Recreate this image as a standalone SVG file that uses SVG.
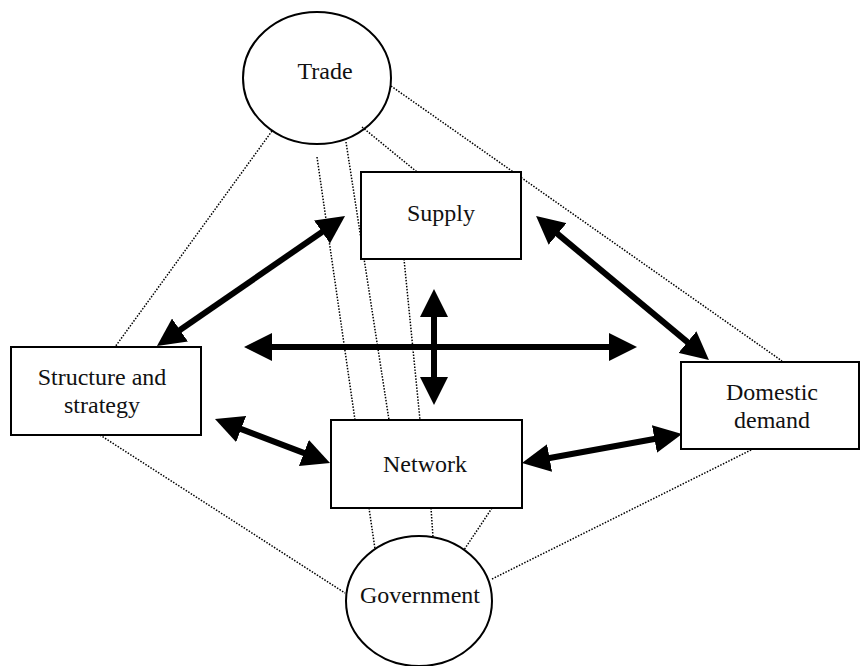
<svg xmlns="http://www.w3.org/2000/svg" width="861" height="666" viewBox="0 0 861 666">
<style>
.node{fill:#fff;stroke:#000;stroke-width:2}
.lbl{font-family:"Liberation Serif","Times New Roman",serif;font-size:24px;fill:#111;text-anchor:middle}
.dot{stroke:#000;stroke-width:1.5;stroke-dasharray:1.5 1.5;fill:none}
.thick{stroke:#000;stroke-width:6;fill:none;marker-start:url(#ah);marker-end:url(#ah)}
</style>
<defs>
<marker id="ah" markerUnits="userSpaceOnUse" viewBox="-4 -14 28 28" refX="0" refY="0" markerWidth="28" markerHeight="28" orient="auto-start-reverse">
<path d="M-4,-14 L24,0 L-4,14 z" fill="#000"/>
</marker>
</defs>
<rect width="861" height="666" fill="#fff"/>
<g id="connectors">
<line class="dot" x1="272" y1="131" x2="115" y2="347"/>
<line class="dot" x1="391" y1="86" x2="782" y2="361"/>
<line class="dot" x1="362" y1="127" x2="417" y2="172"/>
<line class="dot" x1="317" y1="157" x2="355" y2="420"/>
<line class="dot" x1="346" y1="142" x2="389" y2="420"/>
<line class="dot" x1="404" y1="259" x2="420" y2="420"/>
<line class="dot" x1="369" y1="508" x2="375" y2="549"/>
<line class="dot" x1="431" y1="508" x2="433" y2="537"/>
<line class="dot" x1="492" y1="508" x2="464" y2="550"/>
<line class="dot" x1="100" y1="435" x2="345" y2="593"/>
<line class="dot" x1="492" y1="579" x2="753" y2="449"/>
<line class="thick" x1="176.7" y1="332.3" x2="325.3" y2="229.7"/>
<line class="thick" x1="554.5" y1="231.4" x2="690.5" y2="344.6"/>
<line class="thick" x1="268" y1="347" x2="613" y2="347"/>
<line class="thick" x1="434" y1="313" x2="434" y2="381"/>
<line class="thick" x1="237.4" y1="427.6" x2="307.6" y2="454.4"/>
<line class="thick" x1="545.6" y1="458.7" x2="658.4" y2="438.3"/>
</g>
<g id="trade">
<ellipse class="node" cx="317" cy="78" rx="74" ry="66" fill="none" style="fill:none"/>
<text class="lbl" x="325" y="79">Trade</text>
</g>
<g id="supply">
<rect class="node" x="361" y="172" width="160" height="87"/>
<text class="lbl" x="441" y="221">Supply</text>
</g>
<g id="structure">
<rect class="node" x="11" y="347" width="190" height="88"/>
<text class="lbl" x="102" y="385">Structure and</text>
<text class="lbl" x="102" y="413">strategy</text>
</g>
<g id="domestic">
<rect class="node" x="681" y="362" width="178" height="87"/>
<text class="lbl" x="772" y="400">Domestic</text>
<text class="lbl" x="772" y="428">demand</text>
</g>
<g id="network">
<rect class="node" x="331" y="420" width="191" height="88"/>
<text class="lbl" x="425" y="472">Network</text>
</g>
<g id="government">
<ellipse class="node" cx="419" cy="601" rx="73" ry="65"/>
<text class="lbl" x="420" y="603">Government</text>
</g>
</svg>
